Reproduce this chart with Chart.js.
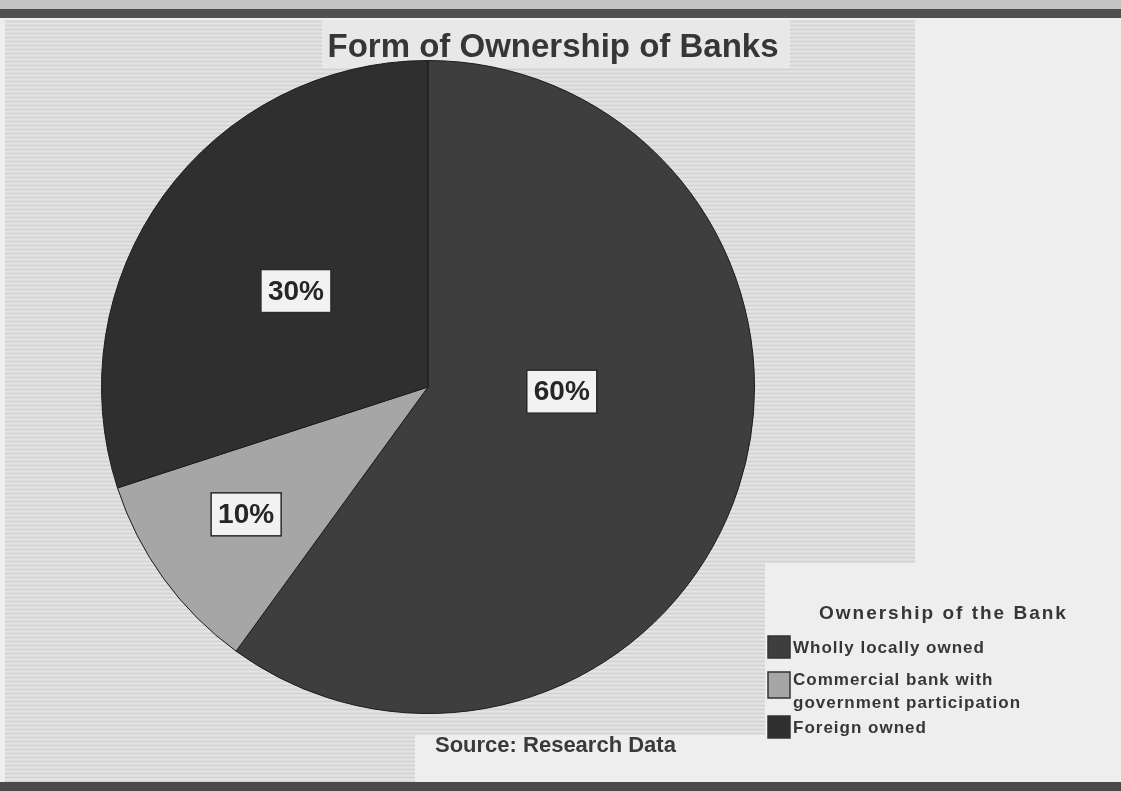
<!DOCTYPE html>
<html>
<head>
<meta charset="utf-8">
<title>Form of Ownership of Banks</title>
<script src="https://cdn.jsdelivr.net/npm/chart.js@4/dist/chart.umd.min.js"></script>
<style>
  html, body { margin: 0; padding: 0; background: #ececec; overflow: hidden; }
  #wrap { position: relative; width: 1121px; height: 791px; }
</style>
</head>
<body>
<div id="wrap"><canvas id="pie" width="1121" height="791"></canvas></div>
<script>
const OWNERSHIP = [
  "Wholly locally owned",
  ["Commercial bank with", "government participation"],
  "Foreign owned"
];
const SHARE = [60, 10, 30];
const SLICE_FILL = ["#3e3e3e", "#a6a6a6", "#2f2f2f"];

const TITLE = "Form of Ownership of Banks";
const LEGEND_TITLE = "Ownership of the Bank";
const SOURCE = "Source: Research Data";

// where each percent box sits: fraction of radius and small angle nudge (deg)
const LABEL_PLACE = [
  { r: 0.41, turn: -16 },
  { r: 0.68, turn: 1 },
  { r: 0.50, turn: 0 }
];

const FONT = '"Liberation Sans", Arial, sans-serif';

function paperPattern(ctx) {
  const c = document.createElement("canvas");
  c.width = 6; c.height = 4;
  const p = c.getContext("2d");
  p.fillStyle = "#dedede"; p.fillRect(0, 0, 6, 4);
  p.fillStyle = "#d2d2d2"; p.fillRect(0, 1, 6, 1);
  p.fillStyle = "#e4e4e4"; p.fillRect(0, 3, 6, 1);
  return ctx.createPattern(c, "repeat");
}

const backdrop = {
  id: "backdrop",
  beforeDraw(chart) {
    const { ctx, width, height } = chart;
    ctx.save();
    ctx.fillStyle = "#eeeeee";
    ctx.fillRect(0, 0, width, height);

    // textured scan area behind the pie
    ctx.fillStyle = paperPattern(ctx);
    ctx.beginPath();
    ctx.moveTo(5, 20); ctx.lineTo(915, 20); ctx.lineTo(915, 563);
    ctx.lineTo(765, 563); ctx.lineTo(765, 735); ctx.lineTo(415, 735);
    ctx.lineTo(415, 782); ctx.lineTo(5, 782); ctx.closePath();
    ctx.fill();

    // lighter strip under the title
    ctx.fillStyle = "#e8e8e8";
    ctx.fillRect(322, 20, 468, 48);

    // top and bottom page bands
    ctx.fillStyle = "#c4c4c4";
    ctx.fillRect(0, 0, width, 9);
    ctx.fillStyle = "#505050";
    ctx.fillRect(0, 9, width, 9);
    ctx.fillStyle = "#4a4a4a";
    ctx.fillRect(0, 782, width, 9);
    ctx.restore();
  }
};

const annotations = {
  id: "annotations",
  afterDraw(chart) {
    const { ctx } = chart;
    const arcs = chart.getDatasetMeta(0).data;
    const total = SHARE.reduce((a, b) => a + b, 0);
    ctx.save();

    // percent boxes on the slices
    ctx.font = `bold 28px ${FONT}`;
    ctx.textAlign = "center";
    ctx.textBaseline = "middle";
    arcs.forEach((arc, i) => {
      const place = LABEL_PLACE[i];
      const mid = (arc.startAngle + arc.endAngle) / 2 + place.turn * Math.PI / 180;
      const x = arc.x + Math.cos(mid) * arc.outerRadius * place.r;
      const y = arc.y + Math.sin(mid) * arc.outerRadius * place.r;
      const text = Math.round(SHARE[i] / total * 100) + "%";
      const w = ctx.measureText(text).width + 14;
      const h = 43;
      ctx.fillStyle = "#f2f2f2";
      ctx.fillRect(x - w / 2, y - h / 2, w, h);
      ctx.strokeStyle = "#2a2a2a";
      ctx.lineWidth = 1.5;
      ctx.strokeRect(x - w / 2, y - h / 2, w, h);
      ctx.fillStyle = "#262626";
      ctx.fillText(text, x, y + 1);
    });

    // title
    ctx.fillStyle = "#363636";
    ctx.font = `bold 33px ${FONT}`;
    ctx.textBaseline = "alphabetic";
    ctx.fillText(TITLE, 553, 57);

    // source note
    ctx.font = `bold 22px ${FONT}`;
    ctx.fillStyle = "#3a3a3a";
    ctx.textAlign = "left";
    ctx.fillText(SOURCE, 435, 752);

    // legend
    ctx.letterSpacing = "2px";
    ctx.font = `bold 19px ${FONT}`;
    ctx.fillStyle = "#363636";
    ctx.fillText(LEGEND_TITLE, 819, 619);

    ctx.letterSpacing = "1px";
    ctx.font = `bold 17px ${FONT}`;
    const rows = [647, 679, 727];
    OWNERSHIP.forEach((label, i) => {
      const lines = Array.isArray(label) ? label : [label];
      const top = rows[i] - 11;
      const boxH = lines.length > 1 ? 26 : 22;
      const boxY = lines.length > 1 ? top + 4 : top;
      ctx.fillStyle = SLICE_FILL[i];
      ctx.fillRect(768, boxY, 22, boxH);
      ctx.strokeStyle = "#333";
      ctx.lineWidth = 1.5;
      ctx.strokeRect(768, boxY, 22, boxH);
      ctx.fillStyle = "#363636";
      lines.forEach((line, k) => {
        ctx.fillText(line, 793, rows[i] + 6 + k * 23);
      });
    });
    ctx.restore();
  }
};

new Chart(document.getElementById("pie"), {
  type: "pie",
  data: {
    labels: OWNERSHIP,
    datasets: [{
      data: SHARE,
      backgroundColor: SLICE_FILL,
      borderColor: "#1c1c1c",
      borderWidth: 1
    }]
  },
  options: {
    responsive: false,
    animation: false,
    layout: { padding: { left: 101, right: 366, top: 60, bottom: 77 } },
    plugins: {
      legend: { display: false },
      title: { display: false },
      tooltip: { enabled: false }
    }
  },
  plugins: [backdrop, annotations]
});
</script>
</body>
</html>
